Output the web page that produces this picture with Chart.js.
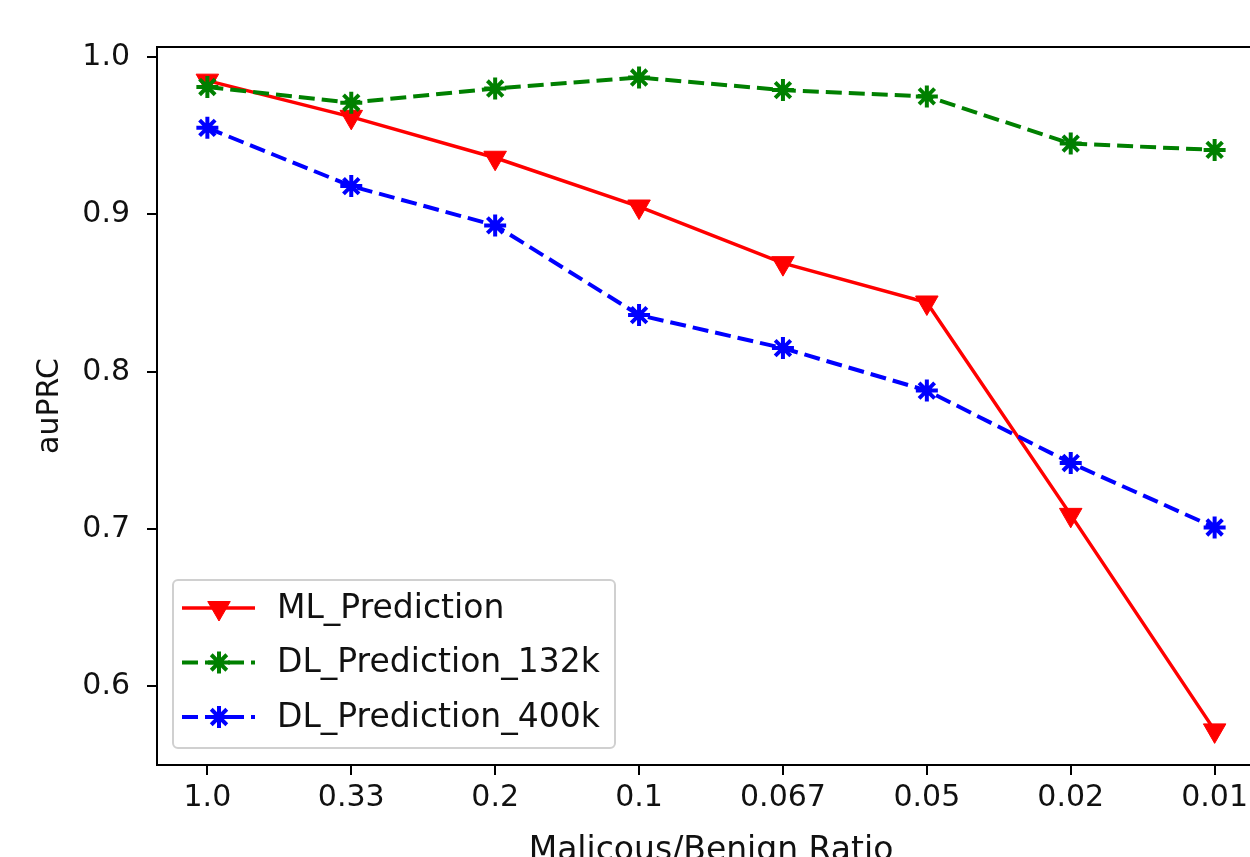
<!DOCTYPE html>
<html>
<head>
<meta charset="utf-8">
<script src="https://cdn.jsdelivr.net/npm/chart.js@4/dist/chart.umd.min.js"></script>
<style>
  html, body { margin: 0; padding: 0; background: #fff; overflow: hidden; }
  #wrap { width: 1250px; height: 857px; overflow: hidden; position: relative; }
  #chart { position: absolute; left: 0; top: 0; }
</style>
</head>
<body>
<div id="wrap"><canvas id="chart" width="1300" height="880"></canvas></div>
<script>
// values
const ratios = ['1.0', '0.33', '0.2', '0.1', '0.067', '0.05', '0.02', '0.01'];
const mlPrediction = [0.985, 0.962, 0.936, 0.905, 0.869, 0.844, 0.709, 0.572];
const dl132k = [0.981, 0.971, 0.980, 0.987, 0.979, 0.975, 0.945, 0.941];
const dl400k = [0.955, 0.918, 0.893, 0.836, 0.815, 0.788, 0.742, 0.701];
const yTicks = [0.6, 0.7, 0.8, 0.9, 1.0];

const FONT = 'DejaVu Sans';
const INK = '#111';

const toPoints = arr => arr.map((v, i) => ({x: i, y: v}));

// matplotlib style box round the axes
const frame = {
    id: 'frame',
    afterDraw(chart) {
        const {ctx, chartArea: a} = chart;
        ctx.save();
        ctx.strokeStyle = '#000';
        ctx.lineWidth = 2;
        ctx.strokeRect(a.left, a.top, a.right - a.left, a.bottom - a.top);
        ctx.restore();
    }
};

// legend in the lower left corner of the axes
const boxLegend = {
    id: 'boxLegend',
    afterDatasetsDraw(chart) {
        const {ctx, chartArea: a} = chart;
        const w = 442, h = 168;
        const x = a.left + 16, y = a.bottom - 17 - h;
        ctx.save();
        ctx.beginPath();
        ctx.roundRect(x, y, w, h, 5);
        ctx.fillStyle = 'rgba(255,255,255,0.8)';
        ctx.fill();
        ctx.strokeStyle = '#d0d0d0';
        ctx.lineWidth = 2;
        ctx.stroke();

        chart.data.datasets.forEach((ds, i) => {
            const cy = y + 28 + i * 54.5;
            ctx.strokeStyle = ds.borderColor;
            ctx.lineWidth = ds.borderWidth;
            ctx.setLineDash(ds.borderDash || []);
            ctx.beginPath();
            ctx.moveTo(x + 9, cy);
            ctx.lineTo(x + 82, cy);
            ctx.stroke();
            ctx.setLineDash([]);
            ctx.fillStyle = ds.pointBackgroundColor;
            ctx.strokeStyle = ds.pointBorderColor;
            ctx.lineWidth = ds.pointBorderWidth;
            Chart.helpers.drawPoint(ctx, {
                pointStyle: ds.pointStyle,
                radius: ds.pointRadius,
                rotation: ds.pointRotation || 0,
                borderWidth: ds.pointBorderWidth
            }, x + 46, cy);
            ctx.fillStyle = INK;
            ctx.font = `33px "${FONT}"`;
            ctx.textBaseline = 'middle';
            ctx.textAlign = 'left';
            ctx.fillText(ds.label, x + 104, cy + 1);
        });
        ctx.restore();
    }
};

const axisLook = {
    grid: {drawOnChartArea: false, tickLength: 10, color: '#000', lineWidth: 2},
    border: {color: '#000', width: 2}
};

new Chart(document.getElementById('chart'), {
    type: 'line',
    data: {
        datasets: [{
            label: 'ML_Prediction',
            data: toPoints(mlPrediction),
            borderColor: '#ff0000',
            borderWidth: 3.5,
            pointStyle: 'triangle',
            pointRotation: 180,
            pointRadius: 13,
            pointBackgroundColor: '#ff0000',
            pointBorderColor: '#ff0000',
            pointBorderWidth: 1,
            order: 3
        }, {
            label: 'DL_Prediction_132k',
            data: toPoints(dl132k),
            borderColor: '#008000',
            borderWidth: 4,
            borderDash: [16, 7],
            pointStyle: 'star',
            pointRadius: 11,
            pointBackgroundColor: '#008000',
            pointBorderColor: '#008000',
            pointBorderWidth: 4,
            order: 2
        }, {
            label: 'DL_Prediction_400k',
            data: toPoints(dl400k),
            borderColor: '#0000ff',
            borderWidth: 4,
            borderDash: [16, 7],
            pointStyle: 'star',
            pointRadius: 11,
            pointBackgroundColor: '#0000ff',
            pointBorderColor: '#0000ff',
            pointBorderWidth: 4,
            order: 1
        }]
    },
    options: {
        responsive: false,
        animation: false,
        layout: {padding: {left: 0, top: 47, right: 35, bottom: 0}},
        elements: {line: {tension: 0}},
        plugins: {legend: {display: false}, tooltip: {enabled: false}},
        scales: {
            x: {
                type: 'linear',
                min: -0.35,
                max: 7.35,
                afterBuildTicks: s => { s.ticks = ratios.map((_, i) => ({value: i})); },
                afterFit: s => { s.height = 115; },
                ticks: {
                    callback: v => ratios[v],
                    font: {family: FONT, size: 30},
                    color: INK,
                    padding: 5,
                    maxRotation: 0,
                    autoSkip: false
                },
                ...axisLook,
                title: {
                    display: true,
                    text: 'Malicous/Benign Ratio',
                    font: {family: FONT, size: 33},
                    color: INK,
                    padding: {top: 0, bottom: 9}
                }
            },
            y: {
                type: 'linear',
                min: 0.55,
                max: 1.0064,
                afterBuildTicks: s => { s.ticks = yTicks.map(v => ({value: v})); },
                afterFit: s => { s.width = 157; },
                ticks: {
                    callback: v => v.toFixed(1),
                    font: {family: FONT, size: 30},
                    color: INK,
                    padding: 17
                },
                ...axisLook,
                title: {
                    display: true,
                    text: 'auPRC',
                    font: {family: FONT, size: 30},
                    color: INK,
                    padding: {top: 32, bottom: 0}
                }
            }
        }
    },
    plugins: [frame, boxLegend]
});
</script>
</body>
</html>
